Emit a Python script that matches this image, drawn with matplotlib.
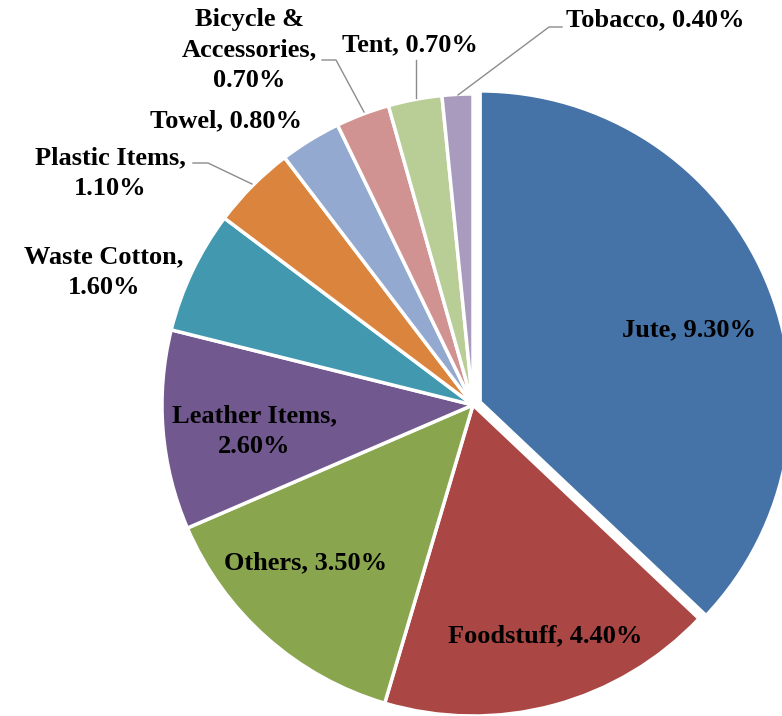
import matplotlib.pyplot as plt

# Share of exports by product (clockwise from 12 o'clock).
labels = ['Jute', 'Foodstuff', 'Others', 'Leather Items', 'Waste Cotton',
          'Plastic Items', 'Towel', 'Bicycle & Accessories', 'Tent', 'Tobacco']
values = [9.30, 4.40, 3.50, 2.60, 1.60, 1.10, 0.80, 0.70, 0.70, 0.40]
colors = ['#4572A7', '#AA4643', '#89A54E', '#71588F', '#4198AF',
          '#DB843D', '#93A9CF', '#D19392', '#B9CD96', '#A99BBD']
explode = [0.025] + [0] * 9

plt.rcParams['font.family'] = ['Liberation Serif', 'DejaVu Serif']

W, H = 782, 716
cx, cy, R = 473, 405, 311  # pie centre and radius in pixels


def px(x, y):
    # pixel position of the reference picture -> data coordinates
    return (x - cx) / R, (cy - y) / R


fig = plt.figure(figsize=(W / 100, H / 100), dpi=100)
ax = fig.add_axes([0, 0, 1, 1])
ax.pie(values, colors=colors, explode=explode, startangle=90, counterclock=False,
       radius=1, wedgeprops=dict(edgecolor='white', linewidth=2.5))
ax.set_xlim(-cx / R, (W - cx) / R)
ax.set_ylim(-(H - cy) / R, cy / R)
ax.set_aspect('equal')
ax.axis('off')

txt = dict(fontsize=19, fontweight='bold', ha='center', va='center', linespacing=1.4)
line = dict(color='#8C8C8C', lw=1)

# text shown for each slice and where it sits
label_text = {
    'Jute': 'Jute, 9.30%',
    'Foodstuff': 'Foodstuff, 4.40%',
    'Others': 'Others, 3.50%',
    'Leather Items': 'Leather Items,\n2.60%',
    'Waste Cotton': 'Waste Cotton,\n1.60%',
    'Plastic Items': 'Plastic Items,\n1.10%',
    'Towel': 'Towel, 0.80%',
    'Bicycle & Accessories': 'Bicycle &\nAccessories,\n0.70%',
    'Tent': 'Tent, 0.70%',
    'Tobacco': 'Tobacco, 0.40%',
}
label_pos = {
    'Jute': (689, 330), 'Foodstuff': (545, 636), 'Others': (306, 563),
    'Leather Items': (254, 431), 'Waste Cotton': (104, 272),
    'Plastic Items': (110, 173), 'Towel': (226, 121),
    'Bicycle & Accessories': (249, 50), 'Tent': (410, 45), 'Tobacco': (655, 20),
}
for name, val in zip(labels, values):
    ax.text(*px(*label_pos[name]), label_text[name], **txt)

# leader lines for the small outer labels
leaders = [
    [(193, 163), (208, 163), (252, 184)],   # Plastic Items
    [(322, 60), (336, 60), (364, 112)],     # Bicycle & Accessories
    [(416, 60), (416, 98)],                 # Tent
    [(562, 27), (549, 27), (458, 95)],      # Tobacco
]
for pts in leaders:
    xs, ys = zip(*[px(x, y) for x, y in pts])
    ax.plot(xs, ys, **line)

fig.savefig('out.png', dpi=100, facecolor='white')
